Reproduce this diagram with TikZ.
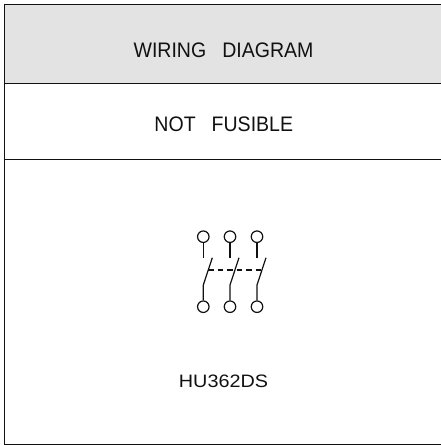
\documentclass[tikz,border=0pt]{standalone}
\usepackage{fontspec}
\setmainfont{Liberation Sans}
\newfontfamily\capfont[FakeStretch=0.93]{Liberation Sans}
\newfontfamily\modelfont[FakeStretch=1.1]{Liberation Sans}
\definecolor{ink}{HTML}{111111}
\definecolor{band}{HTML}{E3E3E3}
\tikzset{
  rule/.style={draw=ink,line width=1pt},
  wire/.style={draw=ink,line width=1.2pt},
  term/.style={circle,draw=ink,line width=1.2pt,fill=white,minimum size=11.5pt,inner sep=0pt},
  caption/.style={inner sep=0pt,text=ink,font=\capfont\fontsize{21}{24}\selectfont},
  smallcaption/.style={inner sep=0pt,text=ink,font=\modelfont\fontsize{18}{22}\selectfont}
}
\newcommand{\wordgap}{\hspace{16pt}}
\begin{document}
\begin{tikzpicture}[x=1pt,y=-1pt]
\useasboundingbox (0,0) rectangle (441,445);
\fill[band] (4.5,4.5) rectangle (441,83.5);
\coordinate (tl) at (4.5,4.5);
\coordinate (tr) at (441,4.5);
\coordinate (bl) at (4.5,444);
\coordinate (br) at (441,444);
\coordinate (al) at (4.5,83.5);
\coordinate (ar) at (441,83.5);
\coordinate (cl) at (4.5,159.5);
\coordinate (cr) at (441,159.5);
\draw[rule] (tr) -- (tl) -- (bl) -- (br);
\draw[rule] (al) -- (ar);
\draw[rule] (cl) -- (cr);
\node[caption] (title) at (223.5,50.5) {WIRING\wordgap DIAGRAM};
\node[caption] (fuse) at (223.8,124) {NOT\wordgap FUSIBLE};
\node[smallcaption] (model) at (223.5,381.5) {HU362DS};
\foreach \n/\x in {a/203.3,b/230,c/257}{
  \node[term] (\n-top) at (\x,236.7) {};
  \node[term] (\n-bot) at (\x,306.7) {};
  \coordinate (\n-stem) at (\x,257.7);
  \coordinate (\n-hinge) at (\x,285);
  \coordinate (\n-end) at (\x+9,257.7);
  \draw[wire] (\n-top.south) -- (\n-stem);
  \draw[wire] (\n-bot.north) -- (\n-hinge) -- (\n-end);
}
\coordinate (dl) at (208,270);
\coordinate (dr) at (262,270);
\draw[wire,dash pattern=on 5.5pt off 4pt] (dl) -- (dr);
\end{tikzpicture}
\end{document}
